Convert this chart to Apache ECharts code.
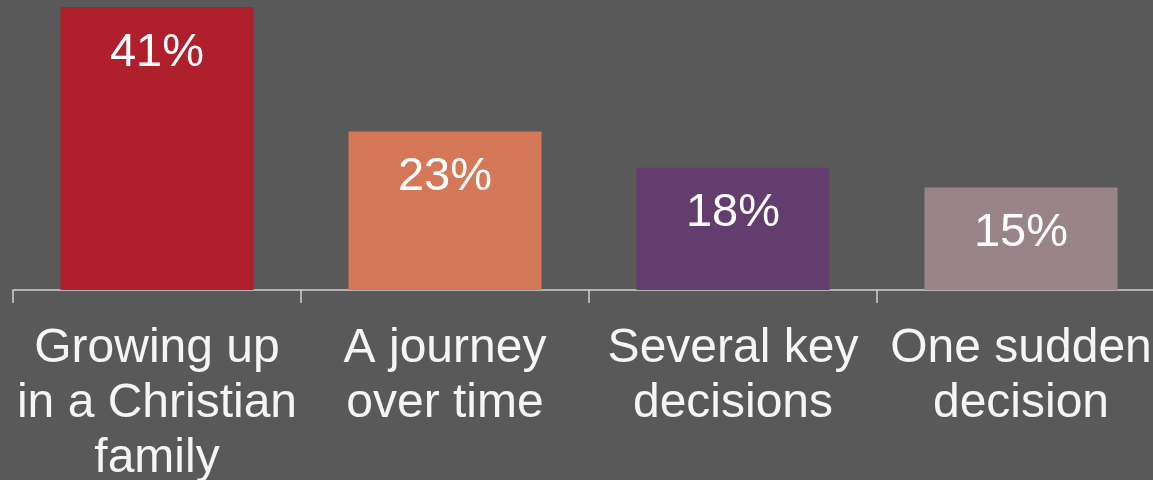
<!DOCTYPE html>
<html>
<head>
<meta charset="utf-8">
<script src="https://cdn.jsdelivr.net/npm/echarts@6/dist/echarts.min.js"></script>
<style>
html,body{margin:0;padding:0;background:#595959;}
#c{width:1153px;height:480px;}
</style>
</head>
<body>
<div id="c"></div>
<script>
const categories = ["Growing up\nin a Christian\nfamily", "A journey\nover time", "Several key\ndecisions", "One sudden\ndecision"];
const values = [41.4, 23.2, 17.9, 15.0];
const colors = ["#AF1F2C", "#D47858", "#643D6F", "#998589"];

const chart = echarts.init(document.getElementById('c'));
chart.setOption({
  backgroundColor: '#595959',
  animation: false,
  grid: { left: 13, width: 1152, top: 5, bottom: 190, containLabel: false, outerBoundsMode: 'none' },
  xAxis: {
    type: 'category',
    data: categories,
    axisLine: { lineStyle: { color: '#D0D0D0', width: 1.5 } },
    axisTick: { show: true, length: 13, lineStyle: { color: '#D0D0D0', width: 1.5 } },
    axisLabel: {
      interval: 0,
      color: '#F5F5F5',
      fontFamily: 'Liberation Sans, Arial, sans-serif',
      fontSize: 48,
      lineHeight: 55,
      margin: 31
    }
  },
  yAxis: {
    type: 'value', min: 0, max: 41.7, show: false,
    splitLine: { show: false }
  },
  series: [{
    type: 'bar',
    barWidth: 193,
    data: values.map((v, i) => ({ value: v, itemStyle: { color: colors[i] } })),
    label: {
      show: true,
      position: 'insideTop',
      distance: 22,
      color: '#FFFFFF',
      fontFamily: 'Liberation Sans, Arial, sans-serif',
      fontSize: 47,
      formatter: p => Math.round(p.value) + '%'
    }
  }]
});
</script>
</body>
</html>
